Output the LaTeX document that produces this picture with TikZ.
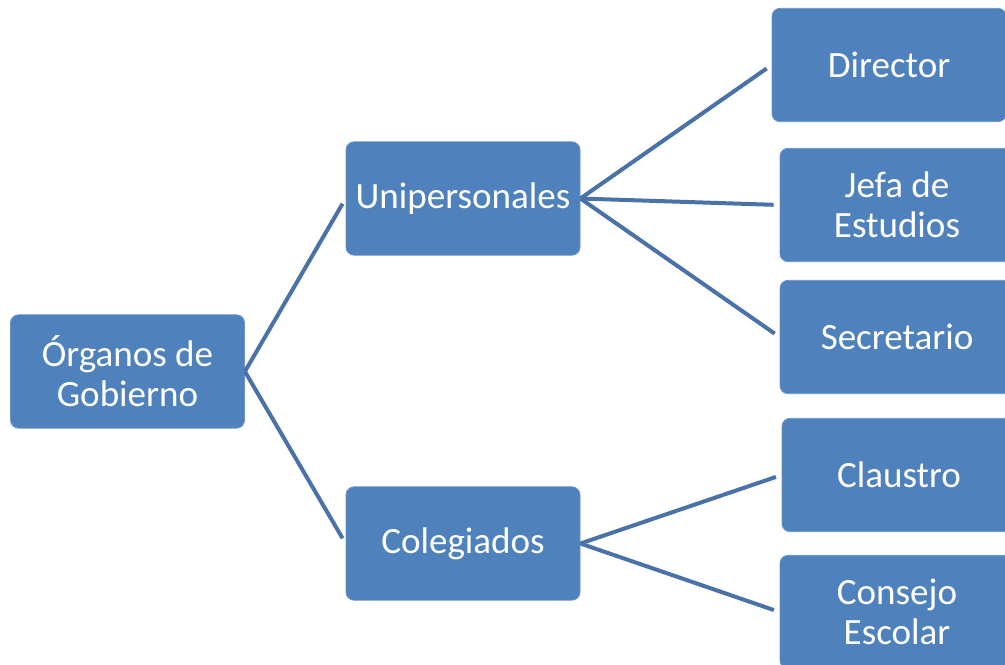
\documentclass[tikz,border=0pt]{standalone}
\usepackage{fontspec}
\setmainfont{Carlito}
\definecolor{cajaazul}{HTML}{4F81BD}
\definecolor{lineaazul}{HTML}{4A72A8}
\tikzstyle{organo}=[fill=cajaazul,draw=cajaazul!85!white,line width=0.6pt,rounded corners=6pt,
  minimum width=175.5pt,minimum height=85pt,align=center,text=white,
  font=\fontsize{27.8}{30}\selectfont]
\tikzstyle{enlace}=[draw=lineaazul,line width=3pt,shorten >=4.5pt]

\begin{document}
\begin{tikzpicture}[x=0.75pt,y=-0.75pt]
\clip (0,0) rectangle (1005,664);
\useasboundingbox (0,0) rectangle (1005,664);
    \node [organo] (raiz) at (127.5,371.5) {Órganos de\\Gobierno};
    \node [organo] (unip) at (463,198.5) {Unipersonales};
    \node [organo] (coleg) at (463,543.5) {Colegiados};
    \node [organo] (dir) at (889,65) {Director};
    \node [organo] (jefa) at (897,205) {Jefa de\\Estudios};
    \node [organo] (secr) at (897,337) {Secretario};
    \node [organo] (claus) at (899,475) {Claustro};
    \node [organo] (cons) at (897,612) {Consejo\\Escolar};
    \draw [enlace] (raiz.east) -- (unip.west);
    \draw [enlace] (raiz.east) -- (coleg.west);
    \draw [enlace] (unip.east) -- (dir.west);
    \draw [enlace] (unip.east) -- (jefa.west);
    \draw [enlace] (unip.east) -- (secr.west);
    \draw [enlace] (coleg.east) -- (claus.west);
    \draw [enlace] (coleg.east) -- (cons.west);
\end{tikzpicture}
\end{document}
